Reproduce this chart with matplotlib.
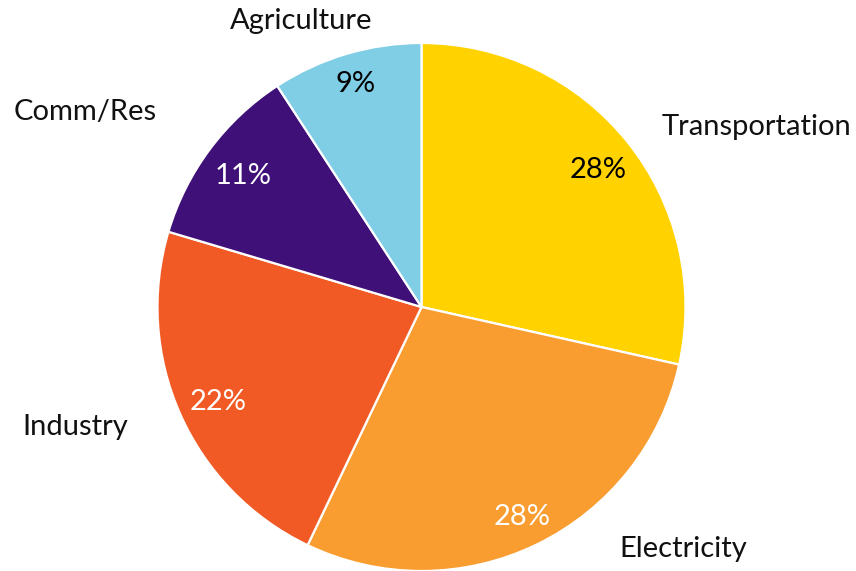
import matplotlib
matplotlib.use("Agg")
import matplotlib.pyplot as plt

# Data
sectors = ["Transportation", "Electricity", "Industry", "Comm/Res", "Agriculture"]
shares = [28.5, 28.6, 22.5, 11.2, 9.2]
pct_labels = ["28%", "28%", "22%", "11%", "9%"]
colors = ["#FFD200", "#F99D31", "#F15A24", "#3F1178", "#7FCEE6"]
pct_text_colors = ["black", "white", "white", "white", "black"]

# Layout (data coords, pie radius = 1)
name_pos = [(1.27, 0.68), (0.99, -0.915), (-1.31, -0.455), (-1.275, 0.74), (-0.455, 1.083)]
pct_pos = [(0.67, 0.52), (0.38, -0.795), (-0.77, -0.36), (-0.675, 0.496), (-0.25, 0.845)]

plt.rcParams["font.family"] = ["Lato", "DejaVu Sans"]

W, H, DPI = 856, 571, 100
fig = plt.figure(figsize=(W / DPI, H / DPI), dpi=DPI)
cx, cy, r = 421.5, 307, 264
ax = fig.add_axes([(cx - r) / W, (H - cy - r) / H, 2 * r / W, 2 * r / H])
ax.pie(shares, colors=colors, startangle=90, counterclock=False, radius=1,
       wedgeprops=dict(edgecolor="white", linewidth=1.6))
ax.set_xlim(-1, 1)
ax.set_ylim(-1, 1)
ax.set_aspect("auto")
ax.axis("off")

for name, (x, y) in zip(sectors, name_pos):
    ax.text(x, y, name, ha="center", va="center", fontsize=21, color="#111111", clip_on=False)
for lab, (x, y), c in zip(pct_labels, pct_pos, pct_text_colors):
    ax.text(x, y, lab, ha="center", va="center", fontsize=21, color=c)

fig.savefig("out.png", dpi=DPI)
